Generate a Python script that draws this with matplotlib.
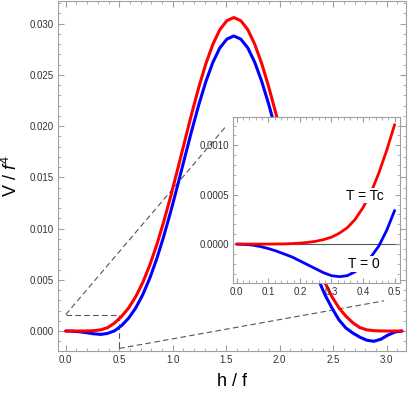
"""
Potential V/f^4 vs h/f at T = 0 and T = Tc, with a zoomed inset near the origin
"""

import matplotlib.pyplot as plt
import numpy as np

plt.rcParams['font.family'] = ['Liberation Sans', 'DejaVu Sans']
plt.rcParams['mathtext.fontset'] = 'custom'
plt.rcParams['mathtext.it'] = 'Liberation Sans:italic'
plt.rcParams['mathtext.rm'] = 'Liberation Sans'

# main curves, sampled at h = 0 .. pi (49 samples)
h_main = np.linspace(0, np.pi, 49)
v_tc = [0.0, 0.0, 0.000001, 0.000009, 0.000036, 0.000115, 0.00033, 0.0008, 0.00145,
        0.00227, 0.00336, 0.00474, 0.00643, 0.00842, 0.01069, 0.01318, 0.01584,
        0.01856, 0.02125, 0.02379, 0.02607, 0.02797, 0.02941, 0.03029, 0.0306,
        0.03029, 0.02941, 0.02797, 0.02607, 0.02379, 0.02125, 0.01856, 0.01584,
        0.01318, 0.01069, 0.00842, 0.00643, 0.00474, 0.00336, 0.00227, 0.00145,
        0.0008, 0.00033, 0.000115, 0.000036, 0.000009, 0.000001, 0.0, 0.0]
v_t0 = [0.0, -0.00002, -0.000075, -0.000165, -0.00027, -0.00033, -0.00023, 0.00003,
        0.00055, 0.00127, 0.00226, 0.00355, 0.00515, 0.00706, 0.00926, 0.01168,
        0.01428, 0.01695, 0.01959, 0.02209, 0.02433, 0.02621, 0.02763, 0.02849,
        0.0288, 0.02849, 0.02763, 0.02621, 0.02433, 0.02209, 0.01959, 0.01695,
        0.01428, 0.01168, 0.00926, 0.00706, 0.00515, 0.00355, 0.00226, 0.0011,
        0.0003, -0.0002, -0.0006, -0.0009, -0.001, -0.0008, -0.0004, -0.0001, 0.0]

# inset curves, h = 0 .. 0.5
h_zoom = np.linspace(0, 0.5, 21)
z_tc = [0.0, 0.0, 0.0, 0.0, 0.0, 0.000001, 0.000002, 0.000005, 0.00001, 0.000017,
        0.000028, 0.000045, 0.00007, 0.00011, 0.000165, 0.00025, 0.00037, 0.00052,
        0.00072, 0.00095, 0.00121]
z_t0 = [0.0, -0.000003, -0.00001, -0.000025, -0.000045, -0.00007, -0.0001, -0.00013,
        -0.00017, -0.00021, -0.00025, -0.00029, -0.00032, -0.00033, -0.00032,
        -0.00028, -0.00021, -0.00013, -0.00002, 0.00014, 0.00034]

main_xticks = [0.0, 0.5, 1.0, 1.5, 2.0, 2.5, 3.0]
main_yticks = [0.0, 0.005, 0.010, 0.015, 0.020, 0.025, 0.030]
zoom_xticks = [0.0, 0.1, 0.2, 0.3, 0.4, 0.5]
zoom_yticks = [0.0, 0.0005, 0.0010]

frame_col = '#a0a0a0'
text_col = '#333333'


def style_axes(ax, major, minor):
    for s in ax.spines.values():
        s.set_color(frame_col)
        s.set_linewidth(0.8)
    ax.tick_params(which='both', direction='in', top=True, right=True,
                   color=frame_col, labelcolor=text_col, labelsize=7, pad=3)
    ax.tick_params(which='major', length=major)
    ax.tick_params(which='minor', length=minor)


fig = plt.figure(figsize=(4.1, 3.94), dpi=100)
ax = fig.add_axes([0.1415, 0.1099, 0.8488, 0.8888])

curve = dict(lw=2.2, zorder=3, solid_joinstyle='round', solid_capstyle='round')
ax.plot(h_main, v_t0, color='#0000ff', **curve)
ax.plot(h_main, v_tc, color='#ff0000', **curve)

# zoom box and connector lines
dash = dict(color='#555555', lw=0.8, ls=(0, (5, 3)), zorder=2)
ax.plot([0.0, 0.5], [0.0016, 0.0016], **dash)
ax.plot([0.5, 0.5], [0.0016, -0.0017], **dash)
ax.plot([0.0, 1.507], [0.0016, 0.0201], **dash)
ax.plot([0.5, 2.975], [-0.0017, 0.00295], **dash)

ax.set_xlim(-0.072, 3.18)
ax.set_ylim(-0.00192, 0.03226)
ax.set_xticks(main_xticks)
ax.set_yticks(main_yticks)
ax.set_xticklabels([f'{t:.1f}' for t in main_xticks])
ax.set_yticklabels([f'{t:.3f}' for t in main_yticks])
ax.set_xticks(np.arange(0, 3.15, 0.1), minor=True)
ax.set_yticks(np.arange(-0.001, 0.0325, 0.001), minor=True)
style_axes(ax, 4, 2.2)
ax.set_xlabel('h / f', fontsize=13, labelpad=6)
ax.set_ylabel(r'V / $\mathit{f}^4$', fontsize=13, labelpad=6)

# inset
ins = fig.add_axes([0.569, 0.281, 0.4066, 0.4228])
ins.set_facecolor('white')
ins.axhline(0, color='#555555', lw=0.8, zorder=1)
zcurve = dict(lw=2.0, zorder=3, solid_joinstyle='round', solid_capstyle='round')
ins.plot(h_zoom, z_t0, color='#0000ff', **zcurve)
ins.plot(h_zoom, z_tc, color='#ff0000', **zcurve)
ins.set_xlim(-0.0107, 0.517)
ins.set_ylim(-0.000397, 0.00129)
ins.set_xticks(zoom_xticks)
ins.set_yticks(zoom_yticks)
ins.set_xticklabels([f'{t:.1f}' for t in zoom_xticks])
ins.set_yticklabels([f'{t:.4f}' for t in zoom_yticks])
ins.set_xticks(np.arange(0, 0.52, 0.02), minor=True)
ins.set_yticks(np.arange(-0.0003, 0.00129, 0.0001), minor=True)
style_axes(ins, 3.5, 2)

box = dict(facecolor='white', edgecolor='none', pad=0.5)
ins.text(0.4066, 0.00049, 'T = Tc', fontsize=10, ha='center', va='center',
         color='black', bbox=box, zorder=4)
ins.text(0.4025, -0.000202, 'T = 0', fontsize=10, ha='center', va='center',
         color='black', bbox=box, zorder=4)

fig.savefig('out.png', dpi=100)
